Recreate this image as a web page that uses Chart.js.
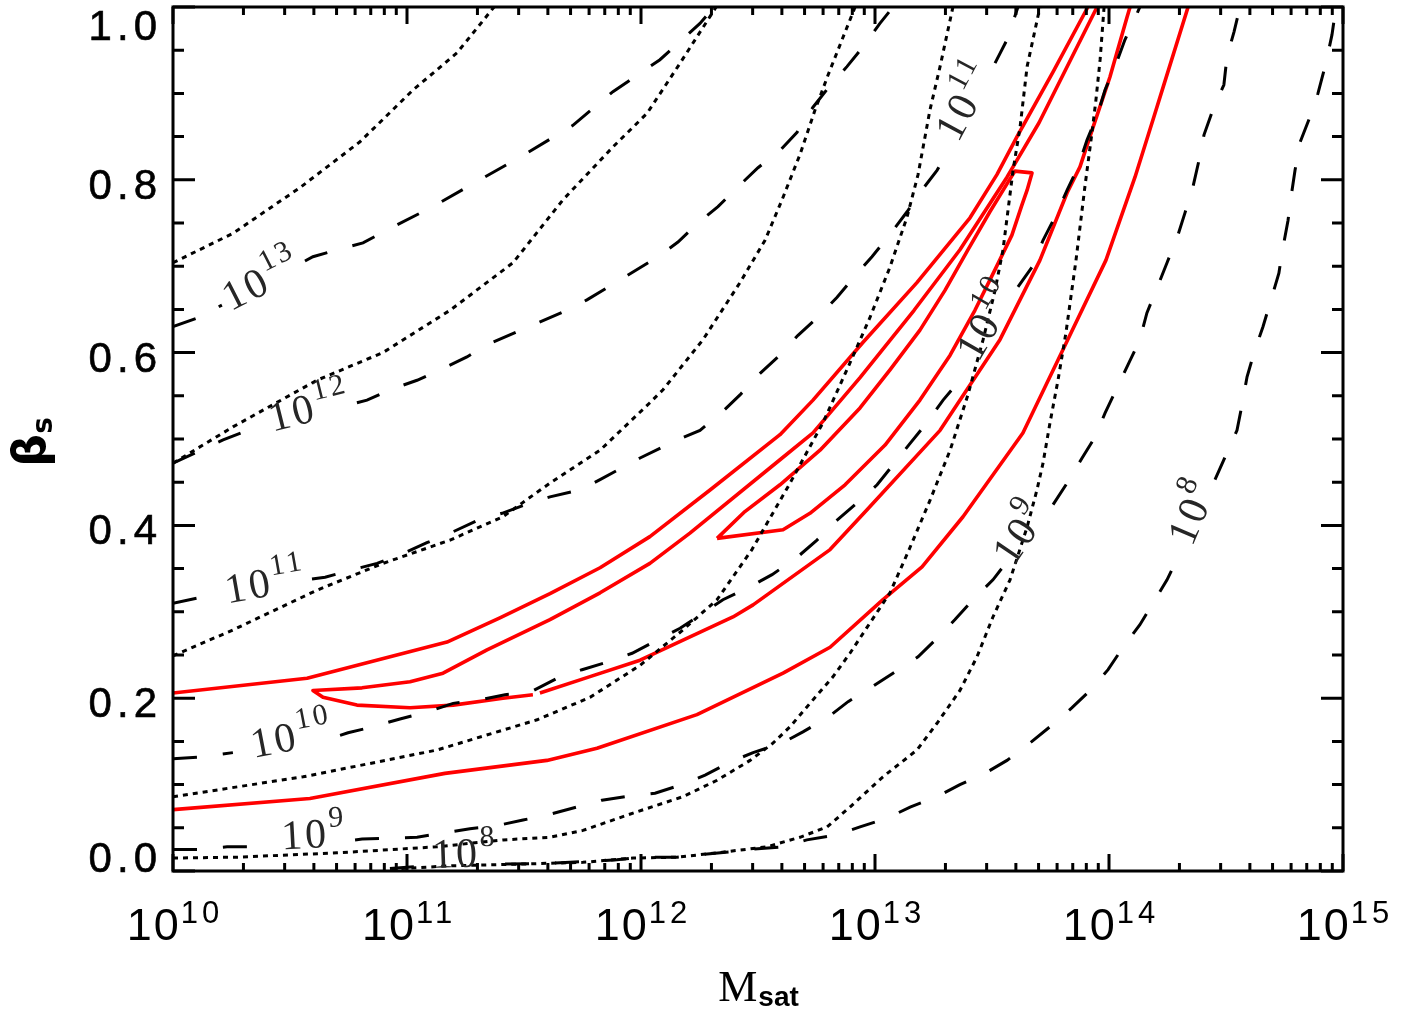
<!DOCTYPE html>
<html><head><meta charset="utf-8">
<script src="https://cdn.jsdelivr.net/npm/chart.js@4/dist/chart.umd.min.js"></script>
<style>html,body{margin:0;padding:0;background:#fff}#wrap{width:1410px;height:1009px}</style>
</head><body><div id="wrap"><canvas id="c" width="1410" height="1009"></canvas></div>
<script>
// ---- axes ----
const xDecades = [10, 11, 12, 13, 14, 15];
const yTicks = [0.0, 0.2, 0.4, 0.6, 0.8, 1.0];
const yTickLabels = ['0.0', '0.2', '0.4', '0.6', '0.8', '1.0'];

// ---- dotted contours: log10(M_sat), beta_s ----
const dot1L = [10.000,10.256,10.543,10.799,11.026,11.214,11.372];
const dot1B = [0.704,0.738,0.791,0.844,0.904,0.947,1.000];
const dot2L = [10.000,10.256,10.615,10.897,11.184,11.453,11.667,11.880,12.026,12.167,12.321];
const dot2B = [0.472,0.514,0.568,0.600,0.649,0.704,0.777,0.838,0.877,0.935,1.000];
const dot3L = [10.000,10.256,10.615,10.897,11.184,11.410,11.611,11.825,12.038,12.094,12.265,12.423,12.530,12.603,12.679,12.744,12.799,12.859,12.915];
const dot3B = [0.249,0.279,0.325,0.356,0.383,0.410,0.449,0.487,0.542,0.557,0.615,0.681,0.730,0.777,0.829,0.881,0.921,0.962,1.000];
const dot4L = [10.000,10.556,11.128,11.556,11.782,11.996,12.179,12.325,12.474,12.637,12.778,12.893,12.979,13.064,13.137,13.184,13.235,13.278,13.333];
const dot4B = [0.086,0.109,0.140,0.175,0.201,0.238,0.279,0.314,0.372,0.449,0.519,0.588,0.641,0.699,0.757,0.806,0.881,0.931,1.000];
const dot5L = [10.000,10.274,10.701,11.128,11.410,11.611,11.752,11.966,12.179,12.325,12.466,12.564,12.637,12.722,12.821,12.893,12.966,13.064,13.141,13.235,13.321,13.397,13.462,13.513,13.547,13.590,13.620,13.650,13.705];
const dot5B = [0.015,0.016,0.021,0.028,0.036,0.039,0.047,0.067,0.086,0.105,0.128,0.148,0.167,0.194,0.225,0.252,0.282,0.322,0.369,0.429,0.487,0.551,0.615,0.672,0.719,0.811,0.861,0.931,1.000];
const dot6L = [13.979,13.962,13.944,13.927,13.897,13.859,13.816,13.782,13.748,13.718,13.692,13.650,13.577,13.504,13.436,13.363,13.265,13.179,13.034,12.893,12.795,12.679,12.538,12.325,12.154,11.966,11.752,11.483,11.184,10.927];
const dot6B = [1.000,0.939,0.892,0.854,0.792,0.707,0.623,0.568,0.519,0.472,0.441,0.398,0.337,0.294,0.248,0.209,0.171,0.140,0.109,0.074,0.051,0.039,0.028,0.021,0.016,0.015,0.010,0.008,0.006,0.002];

// ---- dashed contours (null = gap left for the label) ----
const dash13L = [10.000,10.103,10.209,null,10.564,10.598,10.701,10.812,10.915,11.111,11.312,11.513,11.709,11.880,12.081,12.252,12.312];
const dash13B = [0.630,0.640,0.655,null,0.706,0.711,0.719,0.727,0.742,0.769,0.800,0.831,0.863,0.902,0.939,0.981,1.000];
const dash12L = [10.000,10.214,10.299,10.393,null,10.786,10.829,10.927,11.043,11.141,11.256,11.342,11.470,11.556,11.667,11.769,11.910,12.073,12.158,12.244,12.329,12.415,12.500,12.594,12.667,12.735,12.799,12.880,12.949,13.021,13.077];
const dash12B = [0.472,0.499,0.508,0.515,null,0.542,0.545,0.557,0.568,0.580,0.595,0.609,0.624,0.634,0.647,0.661,0.684,0.711,0.728,0.750,0.769,0.792,0.814,0.834,0.855,0.884,0.906,0.931,0.954,0.981,1.000];
const dash11L = [10.000,10.107,10.201,null,10.594,10.650,10.756,10.872,10.970,11.085,11.184,11.303,11.406,11.526,11.611,11.739,11.825,11.996,12.154,12.252,12.346,12.423,12.509,12.585,12.671,12.752,12.838,12.906,12.987,13.056,13.137,13.192,13.265,13.321,null,13.513,13.564,13.611];
const dash11B = [0.310,0.316,0.321,null,0.338,0.340,0.348,0.356,0.366,0.380,0.391,0.406,0.414,0.426,0.433,0.441,0.453,0.478,0.499,0.510,0.531,0.551,0.576,0.595,0.620,0.640,0.664,0.686,0.711,0.734,0.763,0.785,0.811,0.837,null,0.935,0.962,1.000];
const dash10L = [10.000,10.115,10.256,null,10.714,10.748,10.855,10.970,11.085,11.197,11.312,11.419,11.526,11.641,11.748,11.859,11.962,12.068,12.167,12.252,12.350,12.466,12.560,12.667,12.752,12.838,12.915,13.009,13.077,13.150,13.222,13.291,13.363,null,13.611,13.671,13.718,13.769,13.821,13.868,13.906,13.953,13.983,14.026,14.068,14.111,14.132];
const dash10B = [0.130,0.132,0.137,null,0.157,0.160,0.167,0.176,0.184,0.194,0.198,0.204,0.207,0.223,0.233,0.242,0.252,0.267,0.281,0.296,0.314,0.329,0.343,0.363,0.383,0.406,0.424,0.447,0.470,0.495,0.519,0.545,0.568,null,0.676,0.699,0.730,0.757,0.788,0.815,0.846,0.877,0.904,0.931,0.962,0.987,1.000];
const dash9L = [10.000,10.103,10.231,10.342,null,10.778,10.808,10.919,11.043,11.154,11.269,11.376,11.496,11.603,11.726,11.833,11.953,12.060,12.175,12.274,12.380,12.479,12.603,12.692,12.799,12.885,12.987,13.077,13.184,13.256,13.342,13.419,13.504,13.547,null,13.761,13.821,13.885,13.940,13.983,14.034,14.085,14.132,14.162,14.201,14.248,14.291,14.325,14.359,14.385,14.406,14.444,14.491,14.504,14.534,14.560];
const dash9B = [0.025,0.025,0.028,0.028,null,0.036,0.037,0.038,0.039,0.044,0.049,0.052,0.059,0.065,0.074,0.082,0.087,0.090,0.100,0.111,0.126,0.137,0.148,0.161,0.178,0.196,0.213,0.229,0.248,0.267,0.291,0.314,0.337,0.352,null,0.424,0.449,0.478,0.502,0.530,0.559,0.588,0.615,0.646,0.672,0.704,0.733,0.762,0.792,0.823,0.852,0.881,0.910,0.942,0.971,1.000];
const dash8L = [10.927,11.077,null,11.419,11.611,11.697,11.897,11.996,12.154,12.252,12.380,12.466,12.607,12.709,12.838,12.936,13.051,13.150,13.265,13.363,13.470,13.564,13.662,13.748,13.842,13.919,13.996,14.060,14.132,14.188,14.248,14.303,null,14.453,14.496,14.547,14.568,14.590,14.620,14.658,14.688,14.726,14.739,14.765,14.778,14.795,14.816,14.859,14.893,14.927,14.953,14.970];
const dash8B = [0.003,0.006,null,0.008,0.009,0.010,0.013,0.016,0.016,0.019,0.022,0.025,0.028,0.036,0.042,0.051,0.061,0.074,0.086,0.100,0.113,0.128,0.148,0.167,0.189,0.209,0.233,0.259,0.285,0.310,0.337,0.368,null,0.453,0.479,0.510,0.539,0.572,0.600,0.630,0.657,0.692,0.715,0.753,0.780,0.811,0.843,0.873,0.900,0.935,0.968,1.000];

// ---- red confidence contours ----
const redOuterUpL = [10.000,10.573,11.171,11.397,11.611,11.825,12.038,12.295,12.594,12.735,12.949,13.179,13.406,13.521,13.607,13.761,13.910];
const redOuterUpB = [0.206,0.223,0.265,0.293,0.321,0.351,0.387,0.441,0.505,0.545,0.612,0.681,0.756,0.806,0.850,0.925,1.000];
const redMidL = [13.949,13.701,13.564,13.363,13.167,12.936,12.735,12.594,12.209,12.038,11.825,11.611,11.342,11.154,11.013,10.808,10.598,10.641,10.786,11.013,11.197,11.410,11.538,null,11.568,11.782,11.996,12.393,12.479,12.808,12.966,13.278,13.534,13.705,13.821,13.876,13.932,14.004,14.077,14.090];
const redMidB = [1.000,0.866,0.803,0.719,0.649,0.571,0.507,0.476,0.391,0.356,0.322,0.291,0.256,0.229,0.219,0.212,0.209,0.201,0.192,0.189,0.192,0.200,0.204,null,0.206,0.225,0.244,0.294,0.308,0.372,0.418,0.510,0.615,0.707,0.785,0.815,0.861,0.919,0.988,1.000];
const redOuterLowL = [10.000,10.585,11.162,11.598,11.812,12.239,12.607,12.808,13.034,13.201,13.376,13.632,13.799,13.987,14.111,14.192,14.231,14.338];
const redOuterLowB = [0.071,0.084,0.113,0.128,0.142,0.181,0.229,0.259,0.314,0.352,0.410,0.507,0.601,0.707,0.803,0.873,0.907,1.000];
const redInnerL = [12.325,12.607,12.722,12.872,13.043,13.192,13.321,13.427,13.513,13.585,13.628,13.650,13.671,13.598,13.568,13.491,13.397,13.299,13.192,13.064,12.936,12.765,12.594,12.444,12.325];
const redInnerB = [0.385,0.395,0.414,0.447,0.493,0.545,0.597,0.649,0.696,0.736,0.771,0.788,0.808,0.810,0.797,0.763,0.719,0.672,0.626,0.580,0.536,0.487,0.447,0.416,0.385];

// ---- contour labels (exponent of 10), anchor in data coords, angle in degrees ----
const labelExp   = ['13','12','11','10','9','8','11','10','9','8'];
const labelL     = [10.380,10.585,10.397,10.509,10.603,11.248,13.385,13.479,13.620,14.355];
const labelB     = [0.684,0.536,0.334,0.156,0.043,0.021,0.892,0.638,0.392,0.416];
const labelAngle = [-27,-14,-10,-11,-3,-2,-62,-60,-56,-67];

function pts(L, B) {
  const out = []; let lastX = 1e10;
  for (let i = 0; i < L.length; i++) {
    if (L[i] === null) { out.push({x: lastX, y: null}); }
    else { lastX = Math.pow(10, L[i]); out.push({x: lastX, y: B[i]}); }
  }
  return out;
}
const DOT = {borderColor:'#000', borderWidth:3, borderDash:[5,5]};
const DASH = {borderColor:'#000', borderWidth:3, borderDash:[24,26]};
const RED = {borderColor:'#ff0000', borderWidth:3.6, borderDash:[], borderJoinStyle:'round'};
function ds(L, B, st) {
  return Object.assign({data: pts(L, B), showLine: true, pointRadius: 0, fill: false, spanGaps: false, tension: 0}, st);
}
const datasets = [
  ds(dot1L,dot1B,DOT), ds(dot2L,dot2B,DOT), ds(dot3L,dot3B,DOT), ds(dot4L,dot4B,DOT), ds(dot5L,dot5B,DOT), ds(dot6L,dot6B,DOT),
  ds(dash13L,dash13B,DASH), ds(dash12L,dash12B,DASH), ds(dash11L,dash11B,DASH), ds(dash10L,dash10B,DASH), ds(dash9L,dash9B,DASH), ds(dash8L,dash8B,DASH),
  ds(redOuterUpL,redOuterUpB,RED), ds(redMidL,redMidB,RED), ds(redOuterLowL,redOuterLowB,RED), ds(redInnerL,redInnerB,RED)
];

function setLS(c, v) { try { c.letterSpacing = v; } catch (e) {} }

const deco = {
  id: 'deco',
  beforeDraw(chart) {
    const c = chart.ctx; c.save(); c.fillStyle = '#fff'; c.fillRect(0, 0, chart.width, chart.height); c.restore();
  },
  afterDatasetsDraw(chart) {
    const c = chart.ctx, xs = chart.scales.x, ys = chart.scales.y, a = chart.chartArea;
    c.save();
    // contour labels
    c.fillStyle = '#262626'; c.textAlign = 'left'; c.textBaseline = 'alphabetic';
    for (let i = 0; i < labelExp.length; i++) {
      const px = xs.getPixelForValue(Math.pow(10, labelL[i])), py = ys.getPixelForValue(labelB[i]);
      c.save(); c.translate(px, py); c.rotate(labelAngle[i] * Math.PI / 180);
      c.font = '42px "Liberation Serif"'; setLS(c, '3px'); const wb = c.measureText('10').width;
      c.font = '30px "Liberation Serif"'; setLS(c, '3px'); const we = c.measureText(labelExp[i]).width;
      const x0 = -(wb + we) / 2;
      c.font = '42px "Liberation Serif"'; setLS(c, '3px'); c.fillText('10', x0, 14);
      c.font = '30px "Liberation Serif"'; setLS(c, '3px'); c.fillText(labelExp[i], x0 + wb, -6);
      c.restore();
    }
    setLS(c, '0px');
    // frame
    c.strokeStyle = '#000'; c.lineWidth = 3;
    c.strokeRect(a.left, a.top, a.right - a.left, a.bottom - a.top);
    // y ticks
    c.lineWidth = 3; c.beginPath();
    for (let k = 0; k <= 20; k++) {
      const v = k * 0.05, py = ys.getPixelForValue(v);
      const len = (k % 4 === 0) ? 22 : 11;
      c.moveTo(a.left, py); c.lineTo(a.left + len, py);
      c.moveTo(a.right, py); c.lineTo(a.right - len, py);
    }
    // x ticks
    for (let n = xDecades[0]; n <= xDecades[xDecades.length - 1]; n++) {
      for (let m = 1; m <= 9; m++) {
        if (n === xDecades[xDecades.length - 1] && m > 1) break;
        const px = xs.getPixelForValue(m * Math.pow(10, n));
        const len = (m === 1) ? 17 : 8;
        c.moveTo(px, a.bottom); c.lineTo(px, a.bottom - len);
        c.moveTo(px, a.top); c.lineTo(px, a.top + len);
      }
    }
    c.stroke();
    // y tick labels
    c.fillStyle = '#000'; c.strokeStyle = '#000'; c.lineWidth = 0.6; c.textAlign = 'right';
    c.font = '42px "Liberation Sans"'; setLS(c, '5px');
    for (let i = 0; i < yTicks.length; i++) {
      const py = ys.getPixelForValue(yTicks[i]);
      const base = Math.max(a.top + 33, Math.min(a.bottom + 1, py + 19));
      c.fillText(yTickLabels[i], 162, base);
      c.strokeText(yTickLabels[i], 162, base);
    }
    // x tick labels 10^n
    c.textAlign = 'left';
    for (const n of xDecades) {
      const px = xs.getPixelForValue(Math.pow(10, n));
      c.font = '45px "Liberation Sans"'; setLS(c, '2px');
      const wb = c.measureText('10').width;
      c.font = '31px "Liberation Sans"'; setLS(c, '4px');
      const we = c.measureText(String(n)).width;
      const x0 = px - (wb + we) / 2 + 2;
      c.font = '45px "Liberation Sans"'; setLS(c, '2px');
      c.fillText('10', x0, 940);
      c.font = '31px "Liberation Sans"'; setLS(c, '4px');
      c.fillText(String(n), x0 + wb, 923);
    }
    setLS(c, '0px');
    // x title M_sat
    const cx = (a.left + a.right) / 2;
    c.font = '44px "Liberation Serif"'; const wM = c.measureText('M').width;
    c.font = 'bold 28px "Liberation Sans"'; const wS = c.measureText('sat').width;
    const tx = cx - (wM + wS) / 2;
    c.font = '44px "Liberation Serif"'; c.fillText('M', tx, 1001);
    c.font = 'bold 28px "Liberation Sans"'; c.fillText('sat', tx + wM + 1, 1006);
    // y title beta_s
    c.save(); c.translate(45, 442); c.rotate(-Math.PI / 2);
    c.font = 'bold 46px "DejaVu Sans"'; const wB = c.measureText('β').width;
    c.font = 'bold 28px "DejaVu Sans"'; const ws = c.measureText('s').width;
    const bx = -(wB + ws) / 2;
    c.font = 'bold 46px "DejaVu Sans"'; c.fillText('β', bx, 0);
    c.font = 'bold 28px "DejaVu Sans"'; c.fillText('s', bx + wB, 7);
    c.restore();
    c.restore();
  }
};

new Chart(document.getElementById('c').getContext('2d'), {
  type: 'scatter',
  data: {datasets},
  options: {
    responsive: false, animation: false, devicePixelRatio: 1,
    layout: {padding: {left: 0, right: 67, top: 7, bottom: 0}},
    plugins: {legend: {display: false}, tooltip: {enabled: false}},
    elements: {point: {radius: 0}, line: {tension: 0}},
    scales: {
      x: {type: 'logarithmic', min: 1e10, max: 1e15, grid: {display: false}, border: {display: false}, ticks: {display: false},
          afterFit(s) { s.height = 138; }},
      y: {type: 'linear', min: 0, max: 1, grid: {display: false}, border: {display: false}, ticks: {display: false},
          afterFit(s) { s.width = 173; }}
    }
  },
  plugins: [deco]
});
</script>
</body></html>
